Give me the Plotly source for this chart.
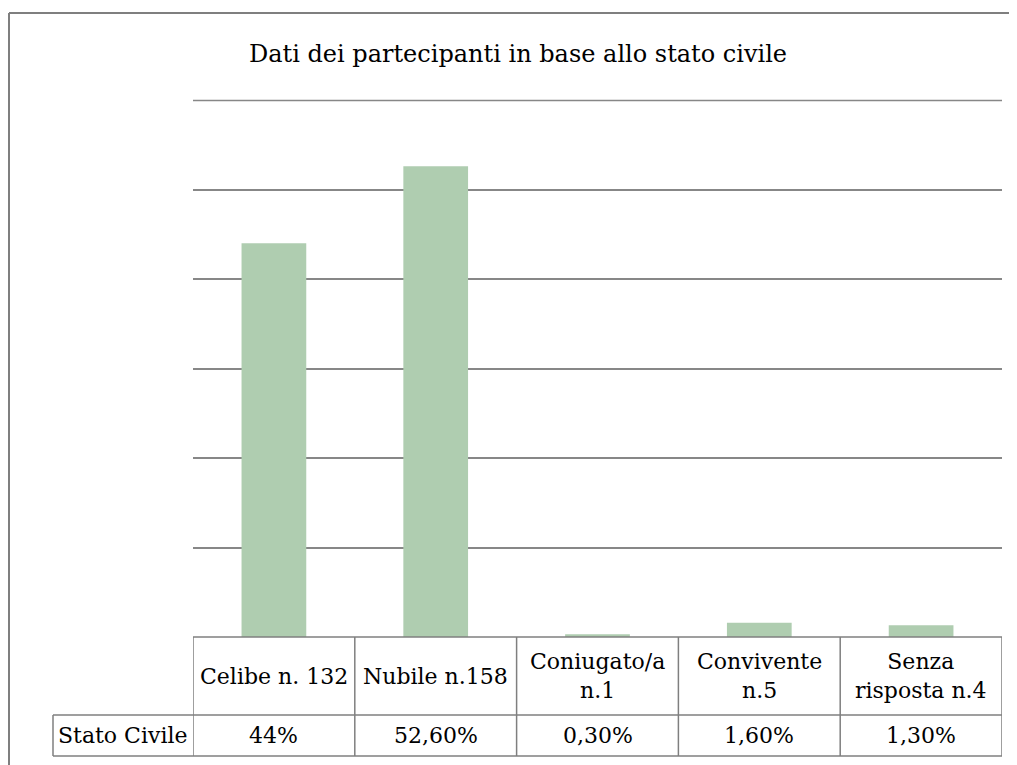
import plotly.graph_objects as go

# data
categories = ["Celibe n. 132", "Nubile n.158", "Coniugato/a<br>n.1", "Convivente<br>n.5", "Senza<br>risposta n.4"]
percent = [44.0, 52.6, 0.3, 1.6, 1.3]
percent_labels = ["44%", "52,60%", "0,30%", "1,60%", "1,30%"]
row_label = "Stato Civile"
title = "Dati dei partecipanti in base allo stato civile"

# the page body has an 8px margin, so the figure is drawn 8px in from the window corner
OFF = 8
W, H = 1017 - OFF, 765 - OFF
L, R, T, B = 193 - OFF, 15, 100 - OFF, 128
PLOT_H = H - T - B
PLOT_W = W - L - R

FONT = "DejaVu Serif"
BAR = "#AFCDB0"
GRID = "#878787"
LINE = "#7F7F7F"
Y_MAX = 60


def py(px_below):
    """pixels below the plot bottom -> paper y"""
    return -px_below / PLOT_H


def pxx(px):
    """window pixel x -> paper x"""
    return (px - OFF - L) / PLOT_W


xs = list(range(len(categories)))

fig = go.Figure()
fig.add_trace(go.Bar(x=xs, y=percent, marker_color=BAR, marker_line_width=0,
                     width=0.4, showlegend=False, hoverinfo="skip"))

fig.update_layout(
    width=W, height=H,
    margin=dict(l=L, r=R, t=T, b=B),
    paper_bgcolor="white", plot_bgcolor="white",
    font=dict(family=FONT, color="black", size=22),
    title=dict(text=title, x=(518 - OFF) / W, xanchor="center", y=1 - (54 - OFF) / H, yanchor="middle",
               font=dict(family=FONT, size=24, color="black")),
    xaxis=dict(range=[-0.5, len(categories) - 0.5], visible=False),
    yaxis=dict(range=[0, Y_MAX], dtick=10, showticklabels=False, showgrid=True,
               gridcolor=GRID, gridwidth=1.5, zeroline=False, showline=False),
)

shapes = []
# top gridline (plotly skips the one on the range edge)
shapes.append(dict(type="line", xref="paper", yref="paper", x0=0, x1=1, y0=1 - 0.5 / PLOT_H, y1=1 - 0.5 / PLOT_H,
                   line=dict(color=GRID, width=1.5), layer="below"))
row1, row2 = py(78), py(119)
line = dict(color=LINE, width=1.5)
# table lines
shapes.append(dict(type="line", xref="paper", yref="paper", x0=0, x1=1, y0=0, y1=0, line=line))
for yy in (row1, row2):
    shapes.append(dict(type="line", xref="paper", yref="paper", x0=pxx(53), x1=1, y0=yy, y1=yy, line=line))
shapes.append(dict(type="line", xref="paper", yref="paper", x0=pxx(53), x1=pxx(53), y0=row1, y1=row2, line=line))
for i in range(len(categories) + 1):
    shapes.append(dict(type="line", xref="x", yref="paper", x0=i - 0.5, x1=i - 0.5, y0=0, y1=row2, line=line))
# outer chart border (top and left visible)
top_y = 1 + (T - (13 - OFF)) / PLOT_H
shapes.append(dict(type="line", xref="paper", yref="paper", x0=pxx(9), x1=pxx(1030),
                   y0=top_y, y1=top_y, line=dict(color=LINE, width=2)))
shapes.append(dict(type="line", xref="paper", yref="paper", x0=pxx(9), x1=pxx(9),
                   y0=top_y, y1=py(B + 5), line=dict(color=LINE, width=2)))
fig.update_layout(shapes=shapes)

tfont = dict(family=FONT, size=22, color="black")
ann = []
for i, (c, p) in enumerate(zip(categories, percent_labels)):
    ann.append(dict(x=i, y=(0 + row1) / 2, xref="x", yref="paper", text=c, showarrow=False,
                    xanchor="center", yanchor="middle", align="center", font=tfont))
    ann.append(dict(x=i, y=(row1 + row2) / 2, xref="x", yref="paper", text=p, showarrow=False,
                    xanchor="center", yanchor="middle", font=tfont))
ann.append(dict(x=pxx(123), y=(row1 + row2) / 2, xref="paper", yref="paper", text=row_label,
                showarrow=False, xanchor="center", yanchor="middle", font=tfont))
fig.update_layout(annotations=ann)

fig.write_html("out.html")
